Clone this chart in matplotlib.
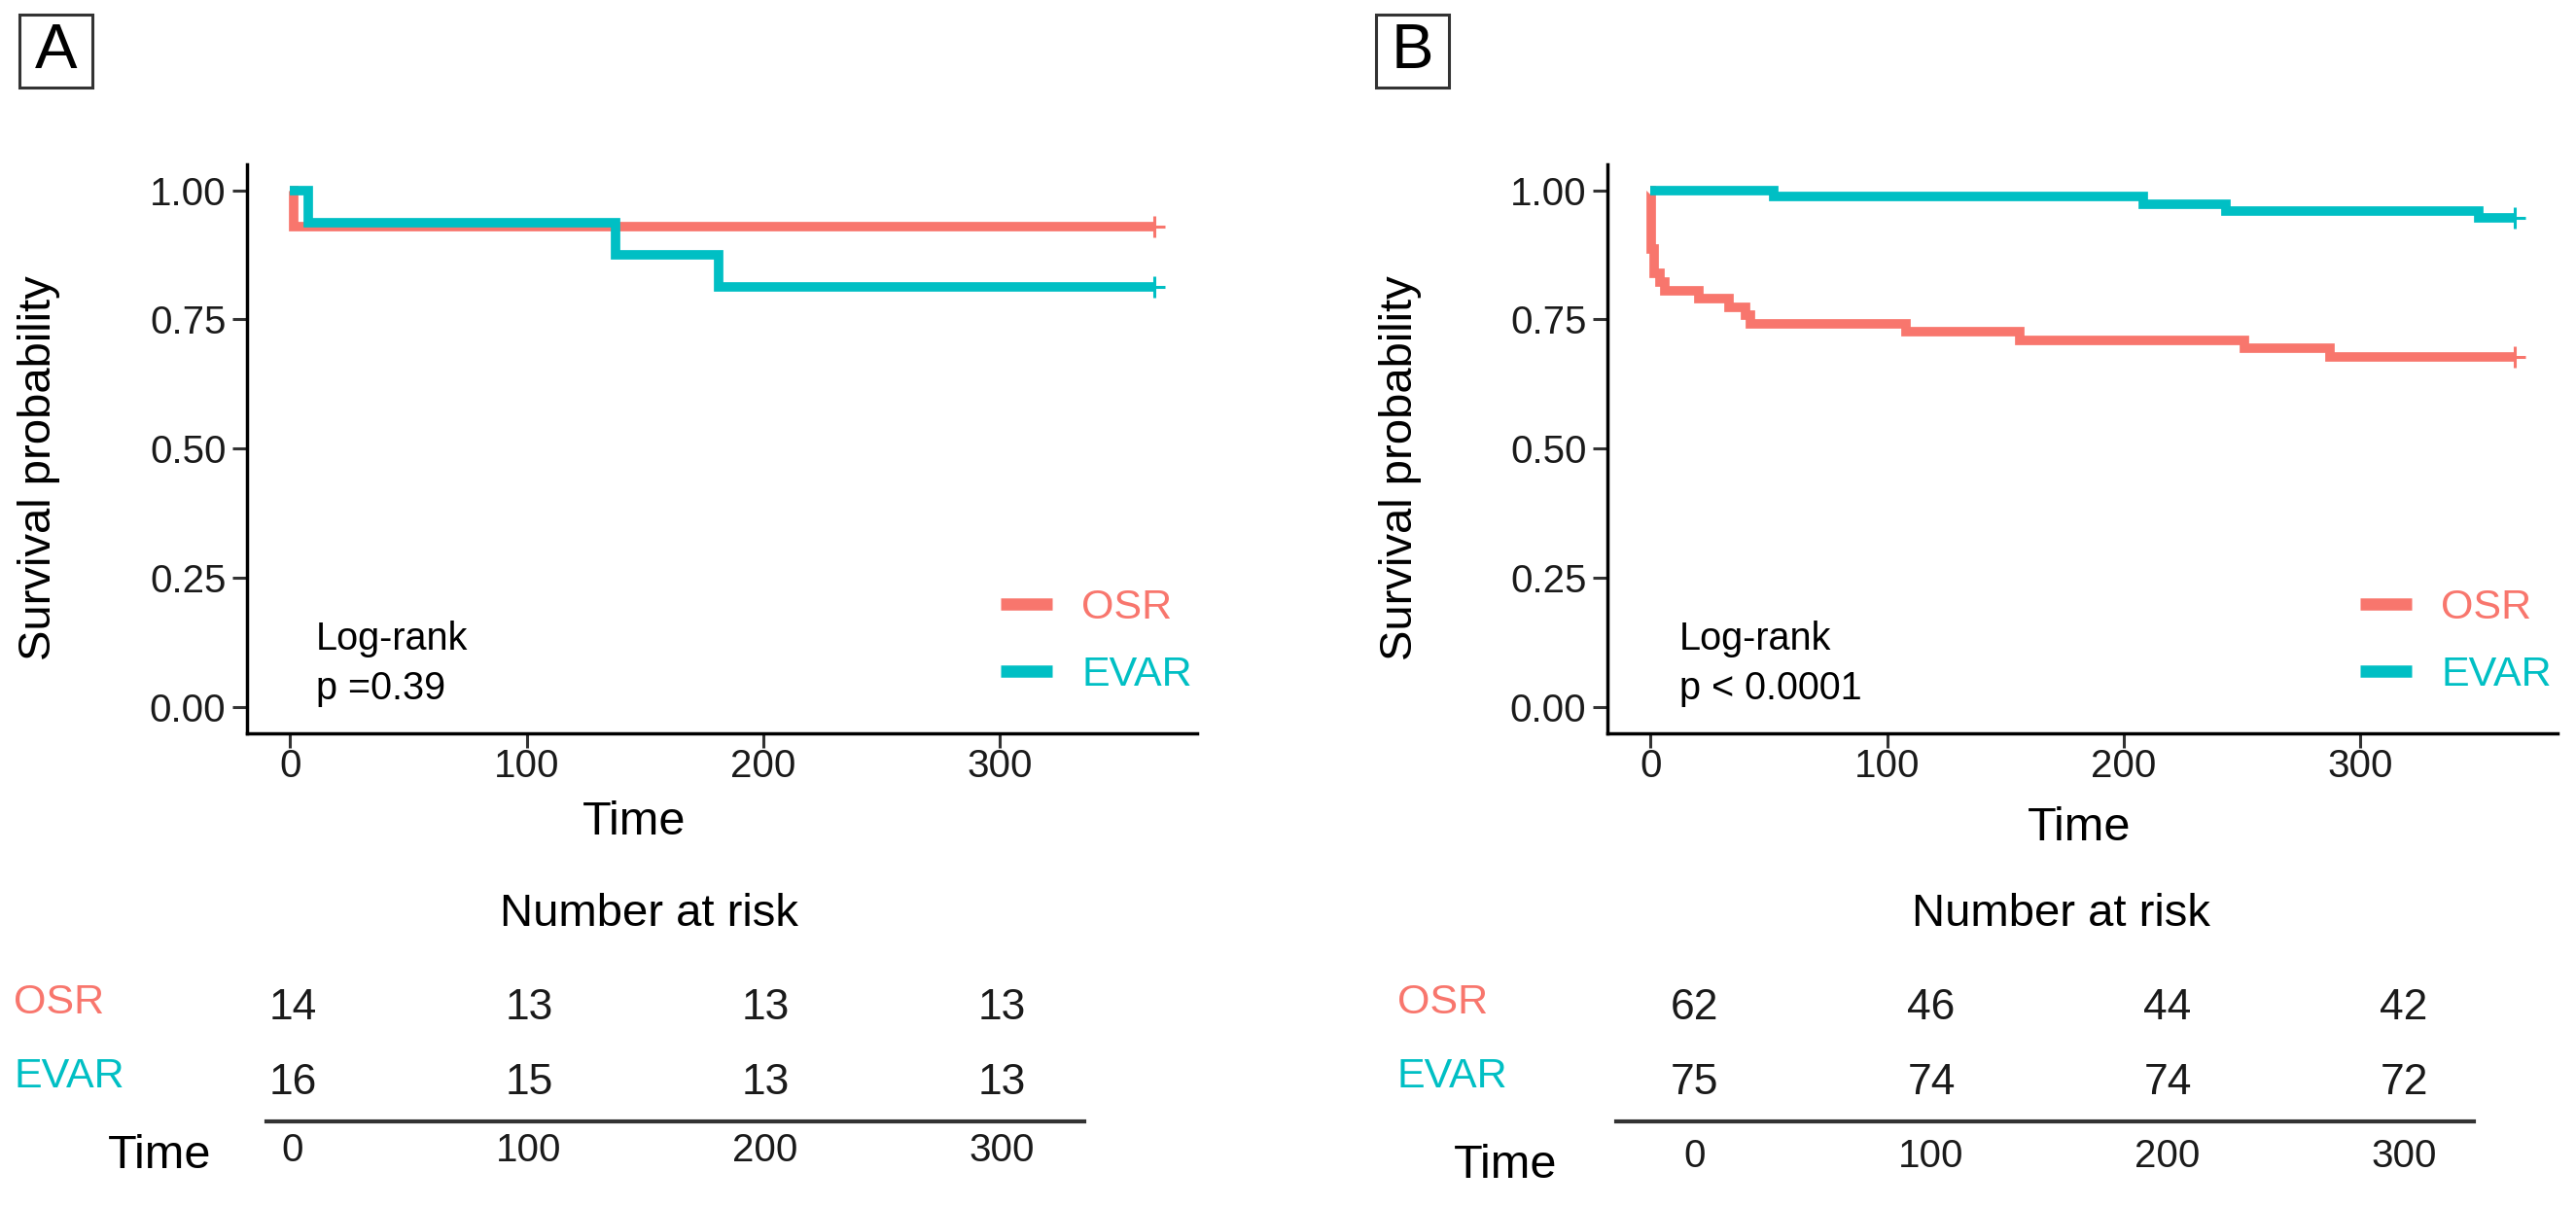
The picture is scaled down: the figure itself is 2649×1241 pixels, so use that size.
import matplotlib
matplotlib.use('Agg')
import matplotlib.pyplot as plt
from matplotlib.lines import Line2D
from matplotlib.patches import Rectangle
from matplotlib.transforms import blended_transform_factory

plt.rcParams['font.family'] = ['Liberation Sans', 'DejaVu Sans']

W, H = 2649, 1241
OSR_COLOR = '#F8766D'
EVAR_COLOR = '#00BFC4'
groups = ['OSR', 'EVAR']

# ---------------- data ----------------
# Panel A
a_osr_time = [0, 1.6, 365]
a_osr_surv = [1.0, 0.929, 0.929]
a_evar_time = [0, 7.7, 137.6, 181, 365]
a_evar_surv = [1.0, 0.9375, 0.875, 0.8125, 0.8125]
a_pvalue = 'p =0.39'
a_risk_osr = [14, 13, 13, 13]
a_risk_evar = [16, 15, 13, 13]

# Panel B
b_osr_time = [0, 0.3, 1.5, 4, 6, 20.5, 33, 40, 42, 108, 156, 251, 287, 365]
b_osr_surv = [1.0, 0.887, 0.839, 0.823, 0.806, 0.790, 0.774, 0.758, 0.742,
              0.726, 0.710, 0.694, 0.677, 0.677]
b_evar_time = [0, 52, 208, 243, 350, 365]
b_evar_surv = [1.0, 0.987, 0.973, 0.960, 0.947, 0.947]
b_pvalue = 'p < 0.0001'
b_risk_osr = [62, 46, 44, 42]
b_risk_evar = [75, 74, 74, 72]

risk_times = [0, 100, 200, 300]
x_ticks = [0, 100, 200, 300]
y_ticks = [0.0, 0.25, 0.5, 0.75, 1.0]
y_ticklabels = ['0.00', '0.25', '0.50', '0.75', '1.00']

# ---------------- layout ----------------
fig = plt.figure(figsize=(W / 100, H / 100), dpi=100)


def fx(px):
    return px / W


def fy(py):
    return 1 - py / H


AX_W = 977
AX_TOP = 169
AX_BOT = 753.5
SCALE = 2.43  # px per time unit in the risk table

panels = [
    dict(letter='A', box_x=20, ax_left=254, ylabel_x=40, xlabel_x=652, xlabel_y=845,
         logrank_x=325, legend_x=1029, t_left=274, t_right=1115, t_zero=301,
         rowlabel_x=14, nar_x=667, time_right=217, time_base=1201, tpad=8,
         osr=(a_osr_time, a_osr_surv), evar=(a_evar_time, a_evar_surv),
         pval=a_pvalue, risk=(a_risk_osr, a_risk_evar)),
    dict(letter='B', box_x=1415, ax_left=1653, ylabel_x=1440, xlabel_x=2138, xlabel_y=852,
         logrank_x=1727, legend_x=2427, t_left=1662, t_right=2544, t_zero=1743,
         rowlabel_x=1437, nar_x=2119, time_right=1601, time_base=1211, tpad=12,
         osr=(b_osr_time, b_osr_surv), evar=(b_evar_time, b_evar_surv),
         pval=b_pvalue, risk=(b_risk_osr, b_risk_evar)),
]

for p in panels:
    # panel letter box
    fig.patches.append(Rectangle((fx(p['box_x']), fy(90)), 75 / W, 75 / H,
                                 transform=fig.transFigure, fill=False,
                                 edgecolor='#333333', linewidth=2.2))
    fig.text(fx(p['box_x'] + 37.5), fy(53), p['letter'], ha='center', va='center',
             fontsize=47, color='black')

    ax = fig.add_axes([fx(p['ax_left']), fy(AX_BOT), AX_W / W, (AX_BOT - AX_TOP) / H])
    for (t, s), col, name in zip([p['osr'], p['evar']], [OSR_COLOR, EVAR_COLOR], groups):
        ax.step(t, s, where='post', color=col, linewidth=7, solid_joinstyle='miter',
                solid_capstyle='butt', label=name)
        ax.plot([t[-1]], [s[-1]], marker='+', color=col, markersize=16,
                markeredgewidth=2.2, linestyle='none')
    ax.set_xlim(-18.25, 383.25)
    ax.set_ylim(-0.05, 1.05)
    ax.set_xticks(x_ticks)
    ax.set_yticks(y_ticks)
    ax.set_yticklabels(y_ticklabels)
    for sp in ['top', 'right']:
        ax.spines[sp].set_visible(False)
    for sp in ['left', 'bottom']:
        ax.spines[sp].set_linewidth(2.5)
        ax.spines[sp].set_color('black')
    ax.tick_params(axis='both', length=10.5, width=2.2, color='#333333',
                   labelsize=29, labelcolor='#1a1a1a')
    ax.tick_params(axis='x', pad=1)
    ax.tick_params(axis='y', pad=5)

    # axis titles
    fig.text(fx(p['ylabel_x']), fy(481), 'Survival probability', rotation=90,
             ha='center', va='center', fontsize=34)
    fig.text(fx(p['xlabel_x']), fy(p['xlabel_y']), 'Time', ha='center', va='center',
             fontsize=35)

    # log-rank annotation
    fig.text(fx(p['logrank_x']), fy(668), 'Log-rank', ha='left', va='baseline',
             fontsize=28.5)
    fig.text(fx(p['logrank_x']), fy(719), p['pval'], ha='left', va='baseline',
             fontsize=28.5)

    # legend
    handles = [Line2D([0], [0], color=OSR_COLOR, lw=9, solid_capstyle='butt'),
               Line2D([0], [0], color=EVAR_COLOR, lw=9, solid_capstyle='butt')]
    leg = ax.legend(handles, groups, loc='center left',
                    bbox_to_anchor=(fx(p['legend_x']), fy(659.5)),
                    bbox_transform=fig.transFigure, frameon=False, borderpad=0,
                    borderaxespad=0, handlelength=1.23, handletextpad=0.7,
                    labelspacing=0.69, fontsize=31)
    for txt, col in zip(leg.get_texts(), [OSR_COLOR, EVAR_COLOR]):
        txt.set_color(col)

    # risk table
    axt = fig.add_axes([fx(p['t_left']), fy(1153), (p['t_right'] - p['t_left']) / W, 150 / H])
    axt.set_xlim((p['t_left'] - p['t_zero']) / SCALE, (p['t_right'] - p['t_zero']) / SCALE)
    axt.set_ylim(0, 1)
    axt.patch.set_visible(False)
    for sp in ['top', 'right', 'left']:
        axt.spines[sp].set_visible(False)
    axt.spines['bottom'].set_linewidth(3)
    axt.spines['bottom'].set_color('#333333')
    axt.set_yticks([])
    axt.set_xticks(risk_times)
    axt.set_xticklabels([str(v) for v in risk_times])
    axt.tick_params(axis='x', length=0, labelsize=29, pad=p['tpad'], labelcolor='#1a1a1a')
    tr = blended_transform_factory(axt.transData, fig.transFigure)
    for counts, base in zip(p['risk'], [1048, 1125]):
        for t, n in zip(risk_times, counts):
            axt.text(t, fy(base), str(n), transform=tr, ha='center', va='baseline',
                     fontsize=32, color='#1a1a1a')
    for name, col, base in zip(groups, [OSR_COLOR, EVAR_COLOR], [1042, 1118]):
        fig.text(fx(p['rowlabel_x']), fy(base), name, ha='left', va='baseline',
                 fontsize=31, color=col)
    fig.text(fx(p['time_right']), fy(p['time_base']), 'Time', ha='right', va='baseline',
             fontsize=35)
    fig.text(fx(p['nar_x']), fy(952), 'Number at risk', ha='center', va='baseline',
             fontsize=34)

fig.savefig('out.png', dpi=100)
